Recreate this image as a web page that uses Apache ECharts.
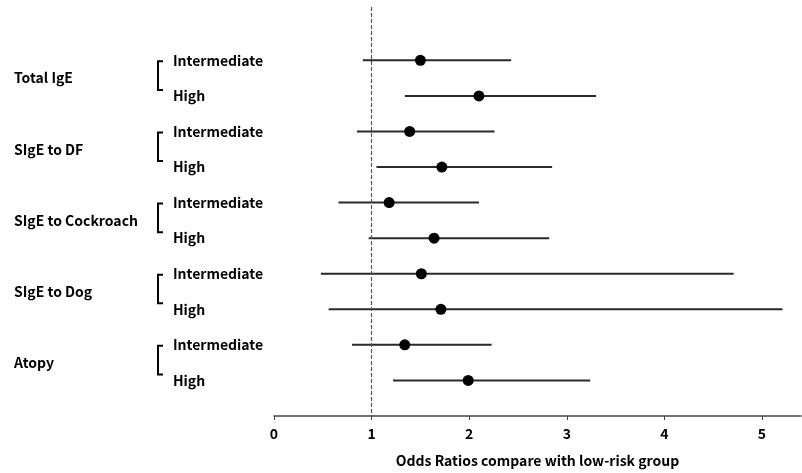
<!DOCTYPE html>
<html>
<head>
<meta charset="utf-8">
<script src="https://cdn.jsdelivr.net/npm/echarts@6/dist/echarts.min.js"></script>
<style>
    html, body { margin: 0; padding: 0; background: #fff; }
    #chart { width: 802px; height: 473px; }
</style>
</head>
<body>
<div id="chart"></div>
<script>
// forest plot: odds ratio with 95% CI, two levels per marker
const groups = ['Total IgE', 'SIgE to DF', 'SIgE to Cockroach', 'SIgE to Dog', 'Atopy'];
const levels = ['Intermediate', 'High'];
const oddsRatio = [1.50, 2.10, 1.39, 1.72, 1.18, 1.64, 1.51, 1.71, 1.34, 1.99];
const ciLower = [0.91, 1.34, 0.85, 1.05, 0.66, 0.97, 0.48, 0.56, 0.80, 1.22];
const ciUpper = [2.43, 3.30, 2.26, 2.85, 2.10, 2.82, 4.71, 5.21, 2.23, 3.24];
const xTicks = [0, 1, 2, 3, 4, 5];

const font = '"Noto Sans CJK KR", "Noto Sans", sans-serif';
const rowCount = groups.length * levels.length;

function rowLabel(v) {
    if (Math.abs(v - Math.round(v)) > 1e-6) return '';
    const i = Math.round(v);
    if (i < 0 || i >= rowCount) return '';
    return levels[i % levels.length];
}

function groupLabel(v) {
    const g = (v - 0.5) / levels.length;
    if (Math.abs(g - Math.round(g)) > 1e-6) return '';
    const i = Math.round(g);
    if (i < 0 || i >= groups.length) return '';
    return groups[i];
}

const yCommon = {
    type: 'value',
    inverse: true,
    min: -1.5,
    max: 10,
    interval: 0.5,
    axisLine: {show: false},
    axisTick: {show: false},
    splitLine: {show: false}
};

const option = {
    animation: false,
    grid: {left: 274, right: 1, top: 7, bottom: 53},
    xAxis: {
        type: 'value',
        min: 0,
        max: 5.4,
        interval: 1,
        splitLine: {show: false},
        axisLine: {onZero: false, lineStyle: {color: '#444', width: 1.5}},
        axisTick: {show: true, length: 4, inside: false, lineStyle: {color: '#444'}},
        axisLabel: {
            color: '#000',
            fontFamily: font,
            fontWeight: 'bold',
            fontSize: 14,
            margin: 11,
            showMaxLabel: false,
            formatter: v => (xTicks.indexOf(v) >= 0 ? String(v) : '')
        },
        name: 'Odds Ratios compare with low-risk group',
        nameLocation: 'middle',
        nameGap: 38,
        nameTextStyle: {color: '#000', fontFamily: font, fontWeight: 'bold', fontSize: 14}
    },
    yAxis: [
        Object.assign({}, yCommon, {
            axisLabel: {
                align: 'left',
                margin: 101,
                color: '#000',
                fontFamily: font,
                fontWeight: 'bold',
                fontSize: 14,
                formatter: rowLabel
            }
        }),
        Object.assign({}, yCommon, {
            position: 'left',
            axisLabel: {
                align: 'left',
                margin: 260,
                color: '#000',
                fontFamily: font,
                fontWeight: 'bold',
                fontSize: 14,
                padding: [0, 0, 10, 0],
                formatter: groupLabel
            }
        })
    ],
    series: [
        {
            // confidence intervals
            type: 'custom',
            renderItem: function (params, api) {
                const a = api.coord([api.value(1), api.value(0)]);
                const b = api.coord([api.value(2), api.value(0)]);
                return {
                    type: 'line',
                    shape: {x1: a[0], y1: a[1], x2: b[0], y2: b[1]},
                    style: {stroke: '#2a2a2a', lineWidth: 2}
                };
            },
            encode: {x: [1, 2], y: 0},
            data: oddsRatio.map((v, i) => [i, ciLower[i], ciUpper[i]]),
            z: 2
        },
        {
            // group brackets, drawn left of the plot area
            type: 'custom',
            clip: false,
            renderItem: function (params, api) {
                const g = api.value(0);
                const top = api.coord([0, g * levels.length]);
                const bot = api.coord([0, g * levels.length + levels.length - 1]);
                const x = top[0] - 116;
                const y1 = top[1] + 1;
                const y2 = bot[1] - 6;
                return {
                    type: 'polyline',
                    shape: {points: [[x + 5, y1], [x, y1], [x, y2], [x + 5, y2]]},
                    style: {stroke: '#000', lineWidth: 2, fill: null}
                };
            },
            data: groups.map((g, i) => [i]),
            silent: true
        },
        {
            type: 'scatter',
            symbol: 'circle',
            symbolSize: 11,
            itemStyle: {color: '#000', opacity: 1},
            data: oddsRatio.map((v, i) => [v, i]),
            z: 3,
            markLine: {
                silent: true,
                symbol: 'none',
                label: {show: false},
                lineStyle: {color: '#555', type: [4, 2], width: 1.2},
                data: [{xAxis: 1}]
            }
        }
    ]
};

const chart = echarts.init(document.getElementById('chart'));
chart.setOption(option);
</script>
</body>
</html>
